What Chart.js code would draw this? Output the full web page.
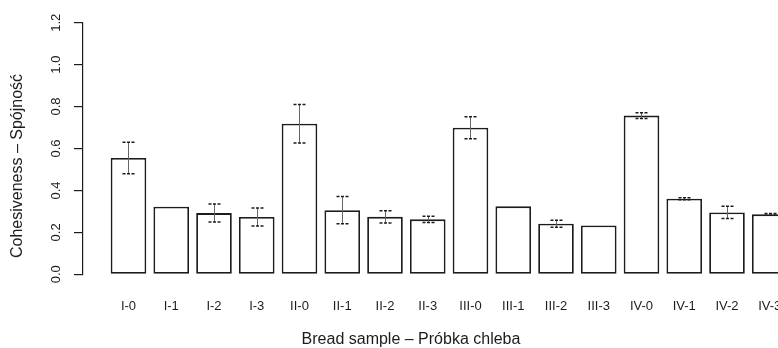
<!DOCTYPE html>
<html>
<head>
<meta charset="utf-8">
<script src="https://cdn.jsdelivr.net/npm/chart.js@4.4.1/dist/chart.umd.min.js"></script>
<style>
  body { margin: 0; background: #fff; }
  #wrap { position: relative; width: 778px; height: 348px; }
</style>
</head>
<body>
<div id="wrap"><canvas id="cohesivenessChart"></canvas></div>
<script>
// bread samples, mean cohesiveness and standard deviation
const samples = ['I-0', 'I-1', 'I-2', 'I-3', 'II-0', 'II-1', 'II-2', 'II-3',
                 'III-0', 'III-1', 'III-2', 'III-3', 'IV-0', 'IV-1', 'IV-2', 'IV-3'];
const cohesiveness = [0.555, 0.322, 0.292, 0.273, 0.718, 0.306, 0.274, 0.262,
                      0.699, 0.324, 0.241, 0.233, 0.757, 0.360, 0.295, 0.286];
const sd = [0.075, 0, 0.043, 0.043, 0.092, 0.065, 0.029, 0.015,
            0.052, 0, 0.017, 0, 0.014, 0.005, 0.029, 0.004];

const ink = '#1c1c1c';
const narrow = '"Liberation Sans Narrow", "Liberation Sans", Arial, sans-serif';
Chart.defaults.font.family = '"Liberation Sans", Arial, sans-serif';

// whiskers with dashed caps, drawn over the bars
const errorBars = {
  id: 'errorBars',
  afterDatasetsDraw(chart) {
    const { ctx, scales: { x, y } } = chart;
    ctx.save();
    cohesiveness.forEach((v, i) => {
      const e = sd[i];
      if (!e) return;
      const px = Math.round(x.getPixelForValue(i)) + 0.5;
      const top = y.getPixelForValue(v + e);
      const bot = y.getPixelForValue(v - e);
      ctx.setLineDash([]);
      ctx.strokeStyle = '#666';
      ctx.lineWidth = 1;
      ctx.beginPath();
      ctx.moveTo(px, top);
      ctx.lineTo(px, bot);
      ctx.stroke();
      ctx.strokeStyle = ink;
      ctx.lineWidth = 1.5;
      ctx.setLineDash([3, 1.5]);
      [top, bot].forEach(py => {
        ctx.beginPath();
        ctx.moveTo(px - 6, py);
        ctx.lineTo(px + 6, py);
        ctx.stroke();
      });
    });
    ctx.restore();
  }
};

// axis captions placed like the base-graphics layout
const axisTitles = {
  id: 'axisTitles',
  afterDraw(chart) {
    const ctx = chart.ctx;
    ctx.save();
    ctx.fillStyle = ink;
    ctx.font = '16px "Liberation Sans", Arial, sans-serif';
    ctx.textAlign = 'center';
    ctx.textBaseline = 'middle';
    ctx.fillText('Bread sample \u2013 Próbka chleba', 411, 340);
    ctx.translate(18, 166);
    ctx.rotate(-Math.PI / 2);
    ctx.fillText('Cohesiveness \u2013 Spójność', 0, 0);
    ctx.restore();
  }
};

// keep the plot area edge to edge: no extra room for end labels
const noEdgePadding = s => {
  s.paddingLeft = s.paddingRight = s.paddingTop = s.paddingBottom = 0;
};

new Chart(document.getElementById('cohesivenessChart'), {
  type: 'bar',
  data: {
    datasets: [{
      data: samples.map((s, i) => ({ x: i, y: cohesiveness[i] })),
      backgroundColor: '#fff',
      borderColor: ink,
      borderWidth: 1.8,
      borderSkipped: false,
      barPercentage: 0.833,
      categoryPercentage: 1
    }]
  },
  options: {
    responsive: true,
    maintainAspectRatio: false,
    animation: false,
    layout: { padding: { top: 22.7, left: 0, right: 0, bottom: 0 }, autoPadding: false },
    plugins: { legend: { display: false }, tooltip: { enabled: false } },
    scales: {
      x: {
        type: 'linear',
        offset: false,
        min: -1.064,
        max: 15.193,
        grid: { display: false, drawTicks: false },
        border: { display: false },
        afterBuildTicks: s => { s.ticks = samples.map((_, i) => ({ value: i })); },
        afterFit: s => { s.height = 73.7; noEdgePadding(s); },
        ticks: {
          autoSkip: false,
          maxRotation: 0,
          padding: 24,
          color: ink,
          font: { family: narrow, size: 13 },
          callback: v => samples[v]
        }
      },
      y: {
        min: 0,
        max: 1.2,
        afterFit: s => { s.width = 83; noEdgePadding(s); },
        grid: { drawOnChartArea: false, tickLength: 9, color: ink, lineWidth: 1.2 },
        border: { color: ink, width: 1.2 },
        ticks: {
          stepSize: 0.2,
          minRotation: 90,
          maxRotation: 90,
          crossAlign: 'center',
          padding: 9,
          color: ink,
          font: { family: narrow, size: 13 },
          callback: v => v.toFixed(1)
        }
      }
    }
  },
  plugins: [errorBars, axisTitles]
});
</script>
</body>
</html>
